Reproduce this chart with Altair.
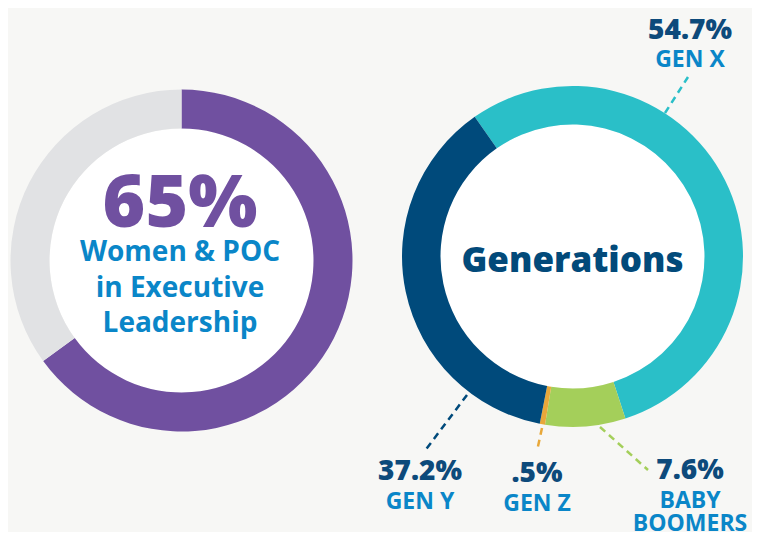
import math
import altair as alt
import pandas as pd

# ---------------- data ----------------
exec_categories = ["Women & POC", "Other"]
exec_values = [65, 35]
exec_caption = ["Women & POC", "in Executive", "Leadership"]

gen_categories = ["GEN X", "BABY BOOMERS", "GEN Z", "GEN Y"]
gen_values = [54.7, 7.6, 0.5, 37.2]
gen_name_lines = [["GEN X"], ["BABY", "BOOMERS"], ["GEN Z"], ["GEN Y"]]
gen_title = "Generations"

# ---------------- layout / style ----------------
W, H = 744, 524
OFF = 8  # page margin: layout below is given in page pixels
BG = "#f7f7f5"
R_IN, R_OUT = 132, 171
left_center = (181.5, 260.5)
right_center = (572.5, 256.5)
right_start_deg = 325.0

cat_colors = {
    "Women & POC": "#7050a0",
    "Other": "#e1e2e4",
    "GEN X": "#2abfc8",
    "BABY BOOMERS": "#a4cf5a",
    "GEN Z": "#e8a83a",
    "GEN Y": "#004a7b",
}
PCT_COLOR = "#0d4a7b"
NAME_COLOR = "#0a86c8"
FONT = "Open Sans"

# label anchor: x centre, percentage baseline, first name baseline
label_layout = {
    "GEN X": (690, 39, 67),
    "BABY BOOMERS": (690, 479, 508),
    "GEN Z": (537, 482, 511),
    "GEN Y": (420, 480, 509),
}
NAME_GAP = 23
leader_layout = {
    "GEN X": ((665, 113), (688, 77)),
    "BABY BOOMERS": ((600, 427), (648, 470)),
    "GEN Z": ((542, 428), (537, 451)),
    "GEN Y": ((467, 395), (424, 452)),
}

color_scale = alt.Scale(domain=list(cat_colors.keys()), range=list(cat_colors.values()))
xs = alt.Scale(domain=[0, W], range=[0, W])
ys = alt.Scale(domain=[0, H], range=[0, H])


def X(field=None, datum=None):
    if datum is not None:
        return alt.X(datum=datum - OFF, scale=xs, axis=None)
    return alt.X(field, type="quantitative", scale=xs, axis=None)


def Y(field=None, datum=None):
    if datum is not None:
        return alt.Y(datum=datum - OFF, scale=ys, axis=None)
    return alt.Y(field, type="quantitative", scale=ys, axis=None)


def fmt_pct(v):
    s = f"{v:.1f}"
    if s.startswith("0"):
        s = s[1:]
    return s + "%"


# ---------------- tables ----------------
exec_df = pd.DataFrame({"cat": exec_categories, "value": exec_values, "idx": range(len(exec_values))})
gen_df = pd.DataFrame({"cat": gen_categories, "value": gen_values, "idx": range(len(gen_values))})

pct_rows, name_rows, rule_rows = [], [], []
for cat, val, names in zip(gen_categories, gen_values, gen_name_lines):
    lx, py, ny = label_layout[cat]
    pct_rows.append({"text": fmt_pct(val), "x": lx - OFF, "y": py - OFF})
    for i, n in enumerate(names):
        name_rows.append({"text": n, "x": lx - OFF, "y": ny + i * NAME_GAP - OFF})
    (x1, y1), (x2, y2) = leader_layout[cat]
    rule_rows.append({"cat": cat, "x": x1 - OFF, "y": y1 - OFF, "x2": x2 - OFF, "y2": y2 - OFF})
pct_df = pd.DataFrame(pct_rows)
name_df = pd.DataFrame(name_rows)
rule_df = pd.DataFrame(rule_rows)

caption_y = [261, 297, 332]
caption_df = pd.DataFrame({"text": exec_caption, "x": [180 - OFF] * 3, "y": [y - OFF for y in caption_y]})
big_df = pd.DataFrame({"text": [f"{exec_values[0]}%"], "x": [180 - OFF], "y": [227 - OFF]})
title_df = pd.DataFrame({"text": [gen_title], "x": [572.5 - OFF], "y": [272 - OFF]})
one = pd.DataFrame({"k": [1]})

# ---------------- layers ----------------
def disc(center):
    return alt.Chart(one).mark_arc(
        theta=0, theta2=2 * math.pi, innerRadius=0, outerRadius=R_IN, fill="#ffffff"
    ).encode(x=X(datum=center[0]), y=Y(datum=center[1]))


left_ring = alt.Chart(exec_df).mark_arc(innerRadius=R_IN, outerRadius=R_OUT).encode(
    x=X(datum=left_center[0]),
    y=Y(datum=left_center[1]),
    theta=alt.Theta("value:Q", stack=True, scale=alt.Scale(range=[0, 2 * math.pi])),
    order=alt.Order("idx:Q"),
    color=alt.Color("cat:N", scale=color_scale, legend=None),
)

a0 = math.radians(right_start_deg)
right_ring = alt.Chart(gen_df).mark_arc(innerRadius=R_IN, outerRadius=R_OUT - 0.5).encode(
    x=X(datum=right_center[0]),
    y=Y(datum=right_center[1]),
    theta=alt.Theta("value:Q", stack=True, scale=alt.Scale(range=[a0, a0 + 2 * math.pi])),
    order=alt.Order("idx:Q"),
    color=alt.Color("cat:N", scale=color_scale, legend=None),
)

leaders = alt.Chart(rule_df).mark_rule(strokeWidth=2.5, strokeDash=[7, 5]).encode(
    x=X("x"), y=Y("y"), x2="x2:Q", y2="y2:Q",
    color=alt.Color("cat:N", scale=color_scale, legend=None),
)


def text_layer(df, size, color, weight="bold"):
    return alt.Chart(df).mark_text(
        font=FONT, fontSize=size, fontWeight=weight, color=color,
        align="center", baseline="alphabetic",
    ).encode(x=X("x"), y=Y("y"), text="text:N")


chart = alt.layer(
    disc(left_center),
    disc(right_center),
    left_ring,
    right_ring,
    leaders,
    text_layer(big_df, 73, "#7050a0", 800),
    text_layer(caption_df, 28, NAME_COLOR),
    text_layer(title_df, 35, "#024a7a", 800),
    text_layer(pct_df, 28, PCT_COLOR, 800),
    text_layer(name_df, 23, NAME_COLOR),
).resolve_scale(theta="independent").properties(
    width=W, height=H, background=BG, padding=0,
    autosize=alt.AutoSizeParams(type="none"),
).configure_view(stroke=None)

chart.save("out.html", embed_options={"renderer": "svg", "actions": False})
